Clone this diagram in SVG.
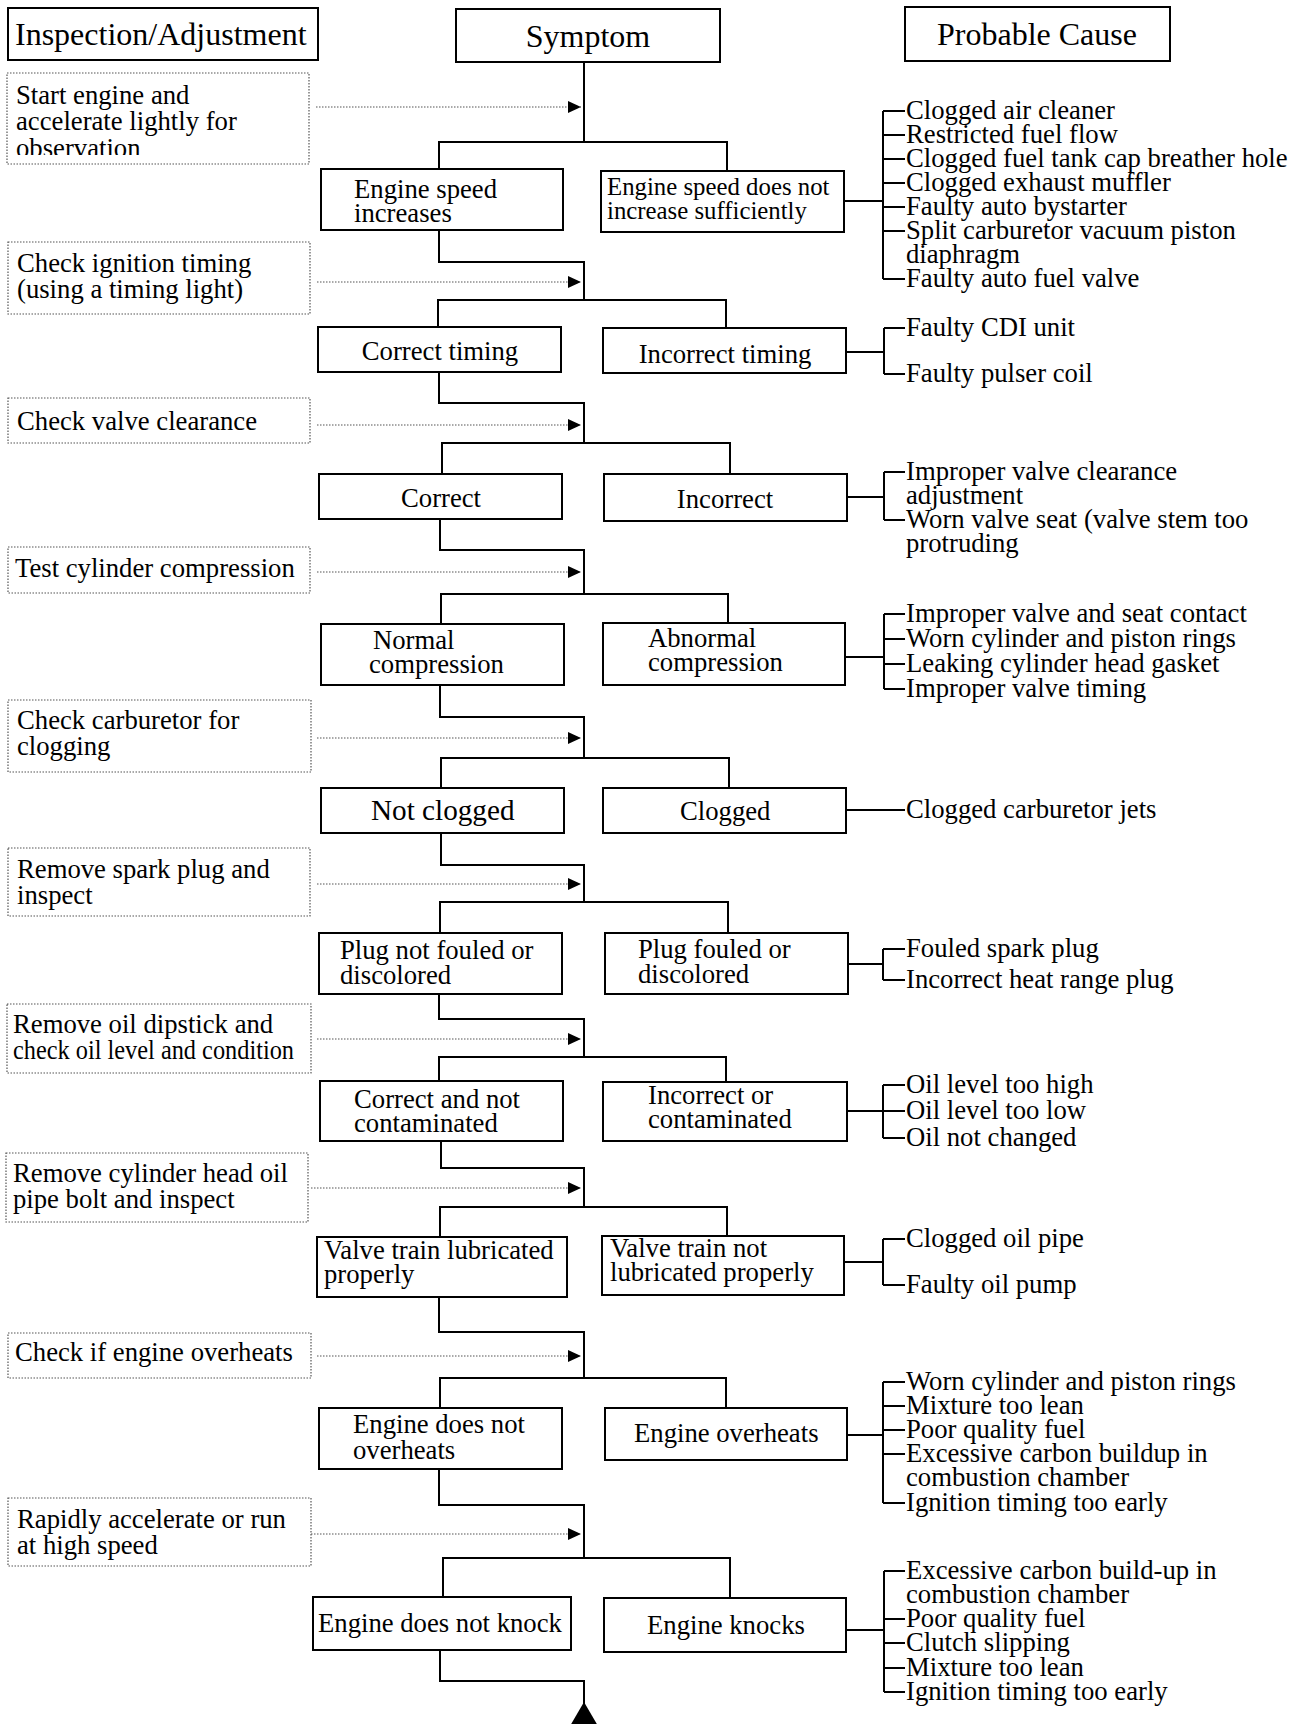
<svg xmlns="http://www.w3.org/2000/svg" width="1305" height="1724" viewBox="0 0 1305 1724">
<style>
text{font-family:"Liberation Serif","Times New Roman",serif;font-size:26.7px;fill:#000}
.h{font-size:32px}
.box{fill:#fff;stroke:#000;stroke-width:2}
.dbox{fill:#fff;stroke:#555;stroke-width:1.2;stroke-dasharray:1.5 1.5}
.ln{fill:none;stroke:#000;stroke-width:2}
.dl{fill:none;stroke:#555;stroke-width:1.2;stroke-dasharray:1.5 1.5}
.c{text-anchor:middle}
</style>
<defs>
<marker id="ah" viewBox="0 0 13 12" refX="13" refY="6" markerWidth="13" markerHeight="12" markerUnits="userSpaceOnUse" orient="auto"><path d="M0,0 L13,6 L0,12 z" fill="#000"/></marker>
<clipPath id="clip1"><rect x="7" y="73" width="302" height="82"/></clipPath>
</defs>
<rect width="1305" height="1724" fill="#fff"/>

<g id="connectors">
<line x1="584" y1="62" x2="584" y2="142" class="ln"/>
<polyline class="ln" points="439,169 439,142 727,142 727,171"/>
<polyline class="ln" points="439,230 439,262 584,262 584,300"/>
<polyline class="ln" points="438,327 438,300 726,300 726,328"/>
<polyline class="ln" points="439,372 439,403 584,403 584,443"/>
<polyline class="ln" points="442,474 442,443 730,443 730,474"/>
<polyline class="ln" points="440,519 440,550 584,550 584,594"/>
<polyline class="ln" points="441,624 441,594 728,594 728,623"/>
<polyline class="ln" points="440,685 440,717 584,717 584,758"/>
<polyline class="ln" points="441,788 441,758 729,758 729,788"/>
<polyline class="ln" points="441,833 441,865 584,865 584,902"/>
<polyline class="ln" points="440,933 440,902 728,902 728,933"/>
<polyline class="ln" points="439,994 439,1019 584,1019 584,1057"/>
<polyline class="ln" points="439,1081 439,1057 726,1057 726,1082"/>
<polyline class="ln" points="441,1141 441,1168 584,1168 584,1207"/>
<polyline class="ln" points="440,1237 440,1207 727,1207 727,1236"/>
<polyline class="ln" points="439,1297 439,1332 584,1332 584,1378"/>
<polyline class="ln" points="440,1408 440,1378 726,1378 726,1408"/>
<polyline class="ln" points="439,1469 439,1505 584,1505 584,1558"/>
<polyline class="ln" points="443,1597 443,1558 730,1558 730,1598"/>
<polyline class="ln" points="440,1650 440,1681 584,1681 584,1705"/>
<polygon points="584,1702 570,1726 598,1726" fill="#000"/>
<line class="dl" x1="316" y1="107" x2="581" y2="107" marker-end="url(#ah)"/>
<line class="dl" x1="317" y1="282" x2="581" y2="282" marker-end="url(#ah)"/>
<line class="dl" x1="317" y1="425" x2="581" y2="425" marker-end="url(#ah)"/>
<line class="dl" x1="317" y1="572" x2="581" y2="572" marker-end="url(#ah)"/>
<line class="dl" x1="317" y1="738" x2="581" y2="738" marker-end="url(#ah)"/>
<line class="dl" x1="317" y1="884" x2="581" y2="884" marker-end="url(#ah)"/>
<line class="dl" x1="317" y1="1039" x2="581" y2="1039" marker-end="url(#ah)"/>
<line class="dl" x1="311" y1="1188" x2="581" y2="1188" marker-end="url(#ah)"/>
<line class="dl" x1="317" y1="1356" x2="581" y2="1356" marker-end="url(#ah)"/>
<line class="dl" x1="311" y1="1534" x2="581" y2="1534" marker-end="url(#ah)"/>
<path class="ln" d="M844,201 H883 M883,111 V279 M883,111 H905 M883,135 H905 M883,159 H905 M883,183 H905 M883,207 H905 M883,231 H905 M883,279 H905"/>
<path class="ln" d="M846,352 H884 M884,328 V374 M884,328 H905 M884,374 H905"/>
<path class="ln" d="M847,497 H884 M884,472 V520 M884,472 H905 M884,520 H905"/>
<path class="ln" d="M845,657 H884 M884,614 V689 M884,614 H905 M884,639 H905 M884,664 H905 M884,689 H905"/>
<path class="ln" d="M846,810 H905"/>
<path class="ln" d="M848,964 H883 M883,949 V980 M883,949 H905 M883,980 H905"/>
<path class="ln" d="M847,1111 H883 M883,1085 V1138 M883,1085 H905 M883,1111 H905 M883,1138 H905"/>
<path class="ln" d="M844,1262 H883 M883,1239 V1285 M883,1239 H905 M883,1285 H905"/>
<path class="ln" d="M847,1435 H883 M883,1382 V1503 M883,1382 H905 M883,1406 H905 M883,1430 H905 M883,1454 H905 M883,1503 H905"/>
<path class="ln" d="M846,1630 H884 M884,1571 V1692 M884,1571 H905 M884,1619 H905 M884,1643 H905 M884,1668 H905 M884,1692 H905"/>
</g>

<g id="hdr-inspection"><rect class="box" x="8" y="8" width="310" height="52"/><text class="h" x="15" y="45">Inspection/Adjustment</text></g>
<g id="hdr-symptom"><rect class="box" x="456" y="9" width="264" height="53"/><text class="h c" x="588" y="47">Symptom</text></g>
<g id="hdr-cause"><rect class="box" x="905" y="7" width="265" height="54"/><text class="h c" x="1037" y="45">Probable Cause</text></g>

<g id="insp1"><rect class="dbox" x="7" y="73" width="302" height="91"/><g clip-path="url(#clip1)"><text x="16" y="104">Start engine and</text><text x="16" y="130">accelerate lightly for</text><text x="16" y="157">observation</text></g></g>
<g id="insp2"><rect class="dbox" x="8" y="242" width="302" height="72"/><text x="17" y="272">Check ignition timing</text><text x="17" y="298">(using a timing light)</text></g>
<g id="insp3"><rect class="dbox" x="8" y="398" width="302" height="45"/><text x="17" y="430">Check valve clearance</text></g>
<g id="insp4"><rect class="dbox" x="8" y="547" width="302" height="46"/><text x="15" y="577">Test cylinder compression</text></g>
<g id="insp5"><rect class="dbox" x="8" y="700" width="303" height="72"/><text x="17" y="729">Check carburetor for</text><text x="17" y="755">clogging</text></g>
<g id="insp6"><rect class="dbox" x="8" y="848" width="302" height="68"/><text x="17" y="878">Remove spark plug and</text><text x="17" y="904">inspect</text></g>
<g id="insp7"><rect class="dbox" x="7" y="1004" width="304" height="69"/><text x="13" y="1033">Remove oil dipstick and</text><text x="13" y="1059" textLength="281" lengthAdjust="spacingAndGlyphs">check oil level and condition</text></g>
<g id="insp8"><rect class="dbox" x="6" y="1153" width="302" height="69"/><text x="13" y="1182">Remove cylinder head oil</text><text x="13" y="1208">pipe bolt and inspect</text></g>
<g id="insp9"><rect class="dbox" x="8" y="1333" width="303" height="45"/><text x="15" y="1361">Check if engine overheats</text></g>
<g id="insp10"><rect class="dbox" x="8" y="1498" width="303" height="68"/><text x="17" y="1528">Rapidly accelerate or run</text><text x="17" y="1554">at high speed</text></g>

<g id="s1a"><rect class="box" x="321" y="169" width="242" height="61"/><text x="354" y="198">Engine speed</text><text x="354" y="222">increases</text></g>
<g id="s1b"><rect class="box" x="601" y="171" width="243" height="61"/><text x="607" y="195" style="font-size:24.8px">Engine speed does not</text><text x="607" y="219" style="font-size:24.8px">increase sufficiently</text></g>
<g id="s2a"><rect class="box" x="318" y="327" width="243" height="45"/><text class="c" x="440" y="360">Correct timing</text></g>
<g id="s2b"><rect class="box" x="603" y="328" width="243" height="45"/><text class="c" x="725" y="363">Incorrect timing</text></g>
<g id="s3a"><rect class="box" x="319" y="474" width="243" height="45"/><text class="c" x="441" y="507">Correct</text></g>
<g id="s3b"><rect class="box" x="604" y="474" width="243" height="47"/><text class="c" x="725" y="508">Incorrect</text></g>
<g id="s4a"><rect class="box" x="321" y="624" width="243" height="61"/><text x="373" y="649">Normal</text><text x="369" y="673">compression</text></g>
<g id="s4b"><rect class="box" x="603" y="623" width="242" height="62"/><text x="648" y="647">Abnormal</text><text x="648" y="671">compression</text></g>
<g id="s5a"><rect class="box" x="321" y="788" width="243" height="45"/><text x="371" y="820" style="font-size:29.2px">Not clogged</text></g>
<g id="s5b"><rect class="box" x="603" y="788" width="243" height="45"/><text x="680" y="820">Clogged</text></g>
<g id="s6a"><rect class="box" x="319" y="933" width="243" height="61"/><text x="340" y="959">Plug not fouled or</text><text x="340" y="984">discolored</text></g>
<g id="s6b"><rect class="box" x="605" y="933" width="243" height="61"/><text x="638" y="958">Plug fouled or</text><text x="638" y="983">discolored</text></g>
<g id="s7a"><rect class="box" x="320" y="1081" width="243" height="60"/><text x="354" y="1108">Correct and not</text><text x="354" y="1132">contaminated</text></g>
<g id="s7b"><rect class="box" x="603" y="1082" width="244" height="59"/><text x="648" y="1104">Incorrect or</text><text x="648" y="1128">contaminated</text></g>
<g id="s8a"><rect class="box" x="317" y="1237" width="250" height="60"/><text x="324" y="1259">Valve train lubricated</text><text x="324" y="1283">properly</text></g>
<g id="s8b"><rect class="box" x="602" y="1236" width="242" height="59"/><text x="610" y="1257">Valve train not</text><text x="610" y="1281">lubricated properly</text></g>
<g id="s9a"><rect class="box" x="319" y="1408" width="243" height="61"/><text x="353" y="1433">Engine does not</text><text x="353" y="1459">overheats</text></g>
<g id="s9b"><rect class="box" x="605" y="1408" width="242" height="52"/><text x="634" y="1442">Engine overheats</text></g>
<g id="s10a"><rect class="box" x="313" y="1597" width="258" height="53"/><text x="318" y="1632">Engine does not knock</text></g>
<g id="s10b"><rect class="box" x="604" y="1598" width="242" height="54"/><text x="647" y="1634">Engine knocks</text></g>

<g id="c1"><text x="906" y="119">Clogged air cleaner</text><text x="906" y="143">Restricted fuel flow</text><text x="906" y="167">Clogged fuel tank cap breather hole</text><text x="906" y="191">Clogged exhaust muffler</text><text x="906" y="215">Faulty auto bystarter</text><text x="906" y="239">Split carburetor vacuum piston</text><text x="906" y="263">diaphragm</text><text x="906" y="287">Faulty auto fuel valve</text></g>
<g id="c2"><text x="906" y="336">Faulty CDI unit</text><text x="906" y="382">Faulty pulser coil</text></g>
<g id="c3"><text x="906" y="480">Improper valve clearance</text><text x="906" y="504">adjustment</text><text x="906" y="528">Worn valve seat (valve stem too</text><text x="906" y="552">protruding</text></g>
<g id="c4"><text x="906" y="622">Improper valve and seat contact</text><text x="906" y="647">Worn cylinder and piston rings</text><text x="906" y="672">Leaking cylinder head gasket</text><text x="906" y="697">Improper valve timing</text></g>
<g id="c5"><text x="906" y="818">Clogged carburetor jets</text></g>
<g id="c6"><text x="906" y="957">Fouled spark plug</text><text x="906" y="988">Incorrect heat range plug</text></g>
<g id="c7"><text x="906" y="1093">Oil level too high</text><text x="906" y="1119">Oil level too low</text><text x="906" y="1146">Oil not changed</text></g>
<g id="c8"><text x="906" y="1247">Clogged oil pipe</text><text x="906" y="1293">Faulty oil pump</text></g>
<g id="c9"><text x="906" y="1390">Worn cylinder and piston rings</text><text x="906" y="1414">Mixture too lean</text><text x="906" y="1438">Poor quality fuel</text><text x="906" y="1462">Excessive carbon buildup in</text><text x="906" y="1486">combustion chamber</text><text x="906" y="1511">Ignition timing too early</text></g>
<g id="c10"><text x="906" y="1579">Excessive carbon build-up in</text><text x="906" y="1603">combustion chamber</text><text x="906" y="1627">Poor quality fuel</text><text x="906" y="1651">Clutch slipping</text><text x="906" y="1676">Mixture too lean</text><text x="906" y="1700">Ignition timing too early</text></g>
</svg>
